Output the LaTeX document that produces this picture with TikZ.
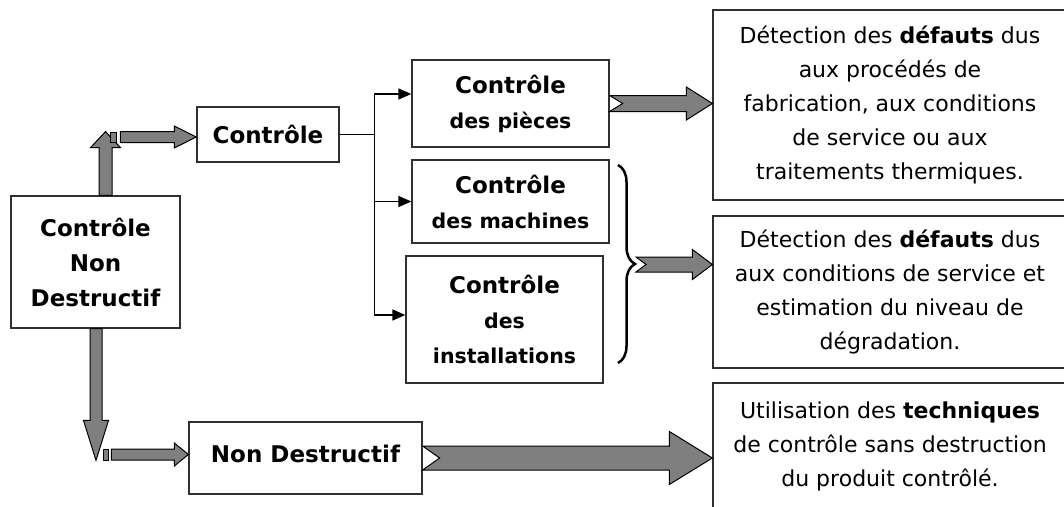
\documentclass[tikz,border=0pt]{standalone}
\usepackage{fontspec}
\setmainfont{DejaVu Sans}
\usetikzlibrary{arrows.meta,calc,decorations.pathreplacing}
\definecolor{arrowgray}{HTML}{7F7F7F}
\definecolor{framegray}{HTML}{303030}
\newcommand{\sous}[1]{{\fontsize{20.5}{34}\selectfont #1}}
% fleche epaisse: queue, pointe, demi-tige, demi-tete, longueur tete, encoche
\newcommand{\fatarrow}[6]{%
  \path ($(#2)!#5!(#1)$) coordinate (fah);
  \draw[fat] ($(#1)!#3!90:(#2)$) -- ($(fah)!#3!90:(#2)$) -- ($(fah)!#4!90:(#2)$)
    -- (#2) -- ($(fah)!#4!-90:(#2)$) -- ($(fah)!#3!-90:(#2)$)
    -- ($(#1)!#3!-90:(#2)$) -- ($(#1)!#6!(#2)$) -- cycle;}
\tikzset{
  >={Triangle[length=13pt,width=11pt]},
  % boites
  bx/.style={draw=framegray,line width=1.3pt,fill=white,align=center,inner sep=0pt},
  ttl/.style={bx,font=\fontsize{23}{35}\selectfont\bfseries},
  res/.style={bx,font=\fontsize{22}{34}\selectfont},
  % liens
  fat/.style={draw=black,fill=arrowgray,line width=1pt,line join=miter},
  lnk/.style={->,line width=1.5pt},
  stub/.style={draw=black,fill=arrowgray,line width=0.8pt,inner sep=0pt},
  brc/.style={decorate,decoration={brace,amplitude=17pt},line width=2.5pt},
}
\begin{document}
\begin{tikzpicture}[x=1pt,y=-1pt]
\useasboundingbox (0,0) rectangle (1064,506);
  \node[ttl,minimum width=169pt,minimum height=132pt] (cnd) at (95.5,262) {Contrôle\\Non\\Destructif};
  \node[ttl,minimum width=142pt,minimum height=55pt] (ctl) at (268,134.5) {Contrôle};
  \node[ttl,minimum width=197pt,minimum height=87pt] (pcs) at (510.5,103.5) {Contrôle\\\sous{des pièces}};
  \node[ttl,minimum width=197pt,minimum height=83pt] (mach) at (510.5,201.5) {Contrôle\\\sous{des machines}};
  \node[ttl,minimum width=197pt,minimum height=127pt] (inst) at (504.5,319.5) {Contrôle\\\sous{des}\\\sous{installations}};
  \node[ttl,minimum width=233pt,minimum height=72pt] (nd) at (305.5,458) {\raisebox{8pt}{Non Destructif}};
  \node[res,minimum width=354pt,minimum height=190pt] (r1) at (890,105)
    {Détection des \textbf{défauts} dus\\aux procédés de\\fabrication, aux conditions\\de service ou aux\\traitements thermiques.};
  \node[res,minimum width=354pt,minimum height=152pt] (r2) at (890,292)
    {Détection des \textbf{défauts} dus\\aux conditions de service et\\estimation du niveau de\\dégradation.};
  \node[res,minimum width=354pt,minimum height=126pt] (r3) at (890,446)
    {Utilisation des \textbf{techniques}\\de contrôle sans destruction\\du produit contrôlé.};
  % branches
  \coordinate (fork) at ($(ctl.east)+(35,0)$);
  \draw[line width=1.5pt] (ctl.east) -- (fork);
  \draw[lnk] (fork) |- ($(pcs.west)+(0,-9.5)$);
  \draw[lnk] (fork) |- (mach.west);
  \draw[lnk] (fork) |- ($(inst.west)+(0,-4.5)$);
  % accolade
  \coordinate (brtop) at (618,165);
  \coordinate (brbot) at (618,363);
  \coordinate (brtip) at (636,264.5);
  \draw[brc] (brtop) -- (brbot);
  % fleches epaisses
  \node[stub,minimum width=6pt,minimum height=10pt] (k1) at (113,137) {};
  \node[stub,minimum width=5pt,minimum height=11pt] (k2) at (105.5,454.5) {};
  \coordinate (upo) at ($(cnd.north)+(10,0)$);
  \coordinate (upi) at (upo |- k1.north);
  \coordinate (dno) at ($(cnd.south)+(0.5,0)$);
  \coordinate (dni) at (dno |- k2.south);
  \fatarrow{upo}{upi}{6.5pt}{15pt}{16pt}{0pt}
  \fatarrow{dno}{dni}{6pt}{12.5pt}{40pt}{0pt}
  \node[stub,minimum width=6pt,minimum height=10pt] at (k1) {};
  \node[stub,minimum width=5pt,minimum height=11pt] at (k2) {};
  \coordinate (a1) at ($(k1.east)+(4,0)$);
  \coordinate (b1) at (ctl.west |- a1);
  \fatarrow{a1}{b1}{5.5pt}{11pt}{22pt}{0pt}
  \coordinate (a2) at ($(k2.east)+(3,0)$);
  \coordinate (b2) at (nd.west |- a2);
  \fatarrow{a2}{b2}{5.5pt}{11.5pt}{14pt}{0pt}
  \coordinate (b3) at (r1.west |- pcs.east);
  \fatarrow{pcs.east}{b3}{8pt}{16.5pt}{26pt}{13pt}
  \coordinate (b4) at (r2.west |- brtip);
  \fatarrow{brtip}{b4}{7.5pt}{15pt}{20pt}{10pt}
  \coordinate (b5) at (r3.west |- nd.east);
  \fatarrow{nd.east}{b5}{12pt}{26.5pt}{43pt}{17pt}
\end{tikzpicture}
\end{document}
